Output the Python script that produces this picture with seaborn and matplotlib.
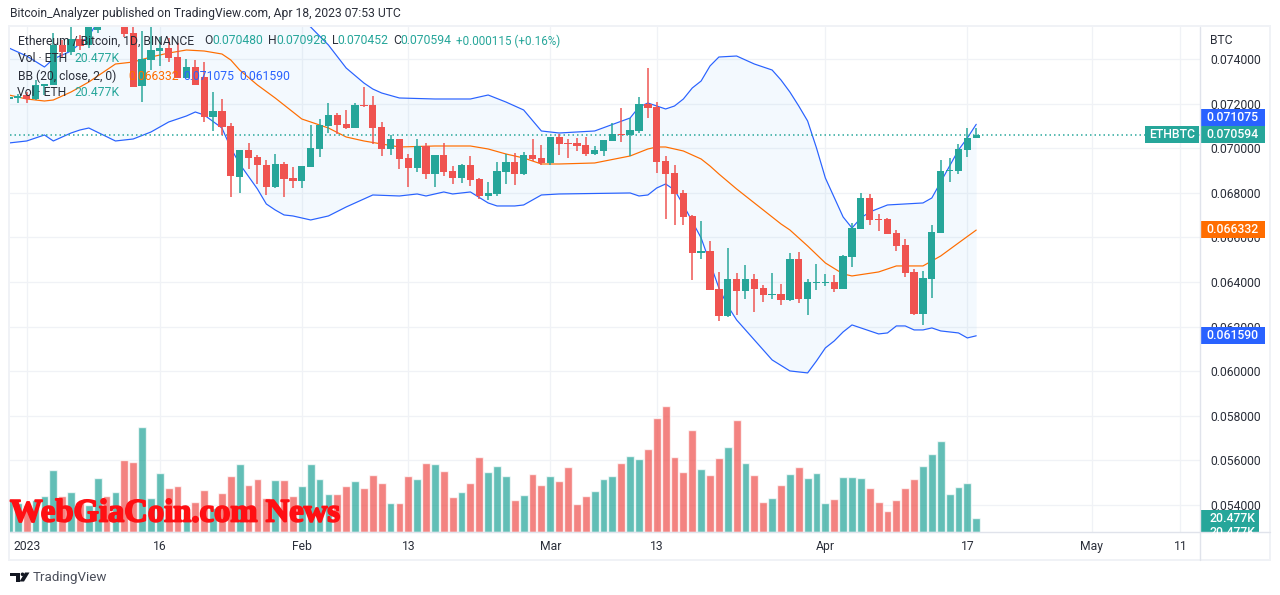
import numpy as np
import pandas as pd
import matplotlib
matplotlib.use('Agg')
import matplotlib.pyplot as plt
import matplotlib.patheffects as pe
from matplotlib.patches import Rectangle, Polygon, Circle
import seaborn as sns

# prices are in millionths of a BTC, days counted from 2023-01-01
SCALE = 1e-6
first_day = -2

opens = [72211, 72256, 72390, 72211, 72794, 72839, 74632, 74318, 74901, 74632, 75305, 75574, 75484, 75753, 75170,
         72794, 73960, 74363, 74498, 74094, 73152, 73646, 73197, 71404, 71673, 71000, 68713, 69924, 69610, 69251,
         68265, 69296, 68668, 68534, 69162, 69969, 71000, 71493, 71090, 70910, 71942, 71942, 70955, 69969, 70417,
         69565, 69117, 70103, 68848, 69700, 68982, 68668, 69251, 68623, 67861, 67951, 68937, 69386, 68848, 69700,
         69565, 69341, 70507, 70238, 70238, 70148, 69745, 69879, 70328, 70641, 70597, 70776, 71987, 71852, 69431,
         68893, 67996, 66965, 65305, 65395, 63691, 62480, 64140, 63602, 64140, 63736, 63422, 63467, 63198, 65036,
         63243, 63960, 63960, 64005, 63691, 65126, 66382, 67772, 66830, 66830, 66202, 65664, 64453, 62570, 64140,
         66202, 68982, 68982, 69924, 70480]
highs = [72390, 72435, 72525, 73063, 72900, 75170, 74856, 75439, 75081, 75843, 75753, 75800, 75900, 75900, 75439,
         75260, 75439, 74991, 74946, 74722, 74004, 73960, 73870, 72525, 72211, 71135, 69924, 70238, 69700, 69476,
         69745, 69386, 69162, 69206, 71045, 71314, 72031, 71583, 71718, 72031, 72749, 72345, 71180, 70597, 70417,
         69745, 70417, 70238, 69700, 70238, 69206, 69296, 69655, 68668, 68489, 69386, 69745, 69790, 69834, 70417,
         70148, 70507, 70641, 70417, 70462, 70507, 70103, 70372, 71135, 71807, 71359, 72300, 73601, 72076, 69655,
         69251, 68130, 67010, 66740, 65844, 64453, 65530, 64409, 64767, 64364, 63871, 64409, 63915, 65305, 65350,
         64140, 64812, 64364, 64319, 65216, 66651, 67996, 67951, 67054, 66875, 66337, 65933, 64588, 64498, 66561,
         69476, 69565, 70193, 70910, 70928]
lows = [72166, 72031, 72031, 72166, 72390, 72839, 74094, 74184, 74408, 74498, 75170, 75450, 75460, 74991, 72749,
        72076, 73511, 73691, 73870, 73152, 73197, 72839, 71180, 70776, 70597, 67816, 67996, 69072, 68399, 67906,
        68220, 67816, 68220, 68220, 69162, 69610, 70686, 70641, 70866, 70910, 71852, 70193, 69655, 69700, 69072,
        68265, 68937, 68623, 68265, 68758, 68399, 68444, 68310, 67727, 67682, 67861, 68399, 68354, 68803, 69431,
        69251, 69251, 69700, 69565, 69879, 69655, 69700, 69655, 70328, 70283, 69655, 70686, 71359, 68893, 66830,
        66561, 66561, 64095, 65036, 63646, 62256, 62435, 62525, 63243, 62660, 63108, 63243, 62974, 63153, 63063,
        62525, 63646, 63826, 63557, 63691, 64677, 66382, 66561, 66292, 66157, 65395, 64229, 62525, 62077, 63288,
        66202, 68489, 68848, 69610, 70452]
closes = [72300, 72345, 72211, 72839, 72883, 74632, 74318, 74901, 74587, 75574, 75574, 75484, 75753, 75125, 72749,
          74004, 74408, 74498, 74049, 73152, 73646, 72839, 71404, 71673, 70955, 68758, 69924, 69565, 69251, 68265,
          69296, 68623, 68534, 69206, 70014, 71045, 71493, 71045, 70910, 71942, 71897, 70910, 69969, 70417, 69520,
          69117, 70103, 68848, 69700, 68937, 68668, 69251, 68579, 67861, 67996, 68982, 69386, 68848, 69700, 69520,
          69341, 70507, 70193, 70193, 70103, 69745, 69924, 70372, 70641, 70597, 70821, 71987, 71807, 69386, 68848,
          67951, 66920, 65305, 65395, 63646, 62480, 64140, 63602, 64140, 63691, 63422, 63467, 63198, 65036, 63243,
          64005, 64005, 64005, 63691, 65171, 66426, 67772, 66785, 66785, 66157, 65619, 64409, 62570, 64184, 66247,
          68982, 69027, 69969, 70480, 70594]
# volume in thousands of ETH
volumes = [48.3, 41.9, 39.0, 46.8, 52.7, 90.7, 52.7, 58.5, 43.9, 39.0, 79.0, 52.7, 58.5, 105.3, 102.4,
           153.6, 49.7, 86.3, 64.4, 67.3, 29.3, 43.9, 61.4, 35.1, 57.0, 81.9, 99.5, 68.7, 77.5, 49.7,
           76.1, 76.1, 52.7, 67.3, 99.5, 77.5, 55.6, 55.6, 67.3, 74.6, 64.4, 83.4, 71.7, 42.4, 42.4,
           81.9, 77.5, 100.9, 99.5, 89.2, 51.2, 58.5, 71.7, 109.7, 87.8, 96.5, 81.9, 46.8, 54.1, 84.8,
           68.7, 81.9, 74.6, 95.1, 41.0, 52.7, 60.0, 77.5, 81.9, 100.9, 111.2, 106.8, 121.4, 166.7, 184.3,
           109.7, 87.8, 149.2, 92.1, 83.4, 108.2, 124.3, 163.8, 100.9, 83.4, 43.9, 49.7, 68.7, 84.8, 95.1,
           79.0, 86.3, 42.4, 48.3, 80.4, 80.4, 79.0, 64.4, 43.9, 30.7, 46.8, 64.4, 77.5, 96.5, 114.1,
           133.1, 55.6, 65.8, 71.7, 20.477]

upper_days = [-2, 0, 2, 3, 5, 7, 8, 10, 12, 14, 16, 18, 19, 20, 22, 23, 24, 26, 28, 29, 30, 31, 32, 34, 36, 38, 39,
              40, 42, 46, 50, 52, 54, 56, 58, 60, 64, 68, 69, 70, 72, 73, 74, 75, 76, 77, 78, 80, 82, 84, 85, 86,
              87, 88, 89, 90, 92, 93, 94, 95, 97, 99, 101, 102, 103, 105, 106, 107]
upper = [74498, 74139, 73646, 74004, 74363, 75036, 75664, 77233, 77323, 77457, 77367, 77367, 77188, 77233, 77547,
         77906, 77726, 77502, 77278, 76874, 76291, 75753, 75439, 74632, 73601, 72928, 72659, 72480, 72256, 72211,
         72211, 72390, 72076, 71718, 70776, 70686, 70776, 71359, 71852, 72031, 71763, 71897, 72211, 72704, 73018,
         73691, 74094, 74139, 73780, 73511, 73063, 72525, 71897, 71224, 70014, 68668, 66920, 66426, 66875, 67144,
         67458, 67503, 67548, 67772, 68489, 69924, 70462, 71075]
basis_days = [-2, 0, 2, 3, 5, 7, 8, 10, 12, 14, 16, 18, 20, 22, 23, 24, 26, 28, 29, 30, 31, 32, 34, 36, 38, 40, 42,
              46, 50, 52, 54, 56, 58, 60, 64, 68, 70, 71, 72, 74, 76, 77, 78, 80, 82, 84, 85, 86, 88, 90, 92, 93,
              96, 98, 101, 103, 105, 107]
basis = [72390, 72211, 72121, 72166, 72525, 72973, 73242, 73780, 73870, 74094, 74273, 74408, 74363, 74229, 73960,
         73511, 72839, 72256, 71942, 71628, 71314, 71180, 70910, 70507, 70328, 70193, 70058, 70103, 70103, 69969,
         69745, 69565, 69296, 69296, 69341, 69655, 69969, 70058, 70058, 69879, 69520, 69206, 68848, 68175, 67547,
         66920, 66606, 66337, 65619, 64857, 64364, 64274, 64453, 64723, 64723, 65171, 65754, 66332]
lower_days = [-2, 0, 2, 3, 5, 6, 7, 10, 12, 14, 16, 18, 19, 20, 22, 23, 24, 26, 27, 28, 29, 30, 32, 34, 36, 38, 39,
              42, 44, 45, 47, 48, 50, 52, 53, 55, 56, 58, 60, 68, 69, 70, 71, 72, 73, 74, 76, 77, 78, 79, 80, 82,
              84, 86, 88, 89, 90, 91, 92, 93, 94, 96, 97, 98, 99, 100, 101, 102, 103, 105, 106, 107]
lower = [70238, 70328, 70597, 70328, 70686, 70821, 70910, 70328, 70417, 70731, 71180, 71449, 71628, 71493, 70910,
         70014, 69296, 68175, 67503, 67234, 67010, 66965, 66785, 66965, 67368, 67727, 67906, 67861, 67951, 67861,
         68041, 67951, 68041, 67548, 67413, 67413, 67458, 67906, 67951, 67996, 67861, 67906, 68220, 68399, 68130,
         67458, 65978, 64857, 63736, 62929, 62301, 61404, 60508, 60014, 59925, 60463, 61046, 61360, 61763, 62077,
         61943, 61674, 61718, 62032, 62032, 61853, 61853, 61943, 61808, 61718, 61494, 61590]

price_ticks = [0.054, 0.056, 0.058, 0.060, 0.062, 0.064, 0.066, 0.068, 0.070, 0.072, 0.074]
time_ticks = [0, 15, 31, 43, 59, 71, 90, 106, 120, 130]
time_labels = ['2023', '16', 'Feb', '13', 'Mar', '13', 'Apr', '17', 'May', '11']

GREEN = '#26a69a'
RED = '#ef5350'
BLUE = '#2962ff'
ORANGE = '#ff6d00'
INK = '#2a2e39'
GRID = '#f0f2f6'
PX = 0.72  # one pixel in points at dpi 100

sns.set_theme(style='white')
plt.rcParams['font.family'] = ['Roboto', 'DejaVu Sans']

W, H = 1280, 595
fig = plt.figure(figsize=(W / 100, H / 100), dpi=100, facecolor='white')
box = [10 / W, (H - 532) / H, 1190 / W, 505 / H]
ax = fig.add_axes(box, zorder=1)
ax_vol = fig.add_axes(box, zorder=2, facecolor='none')
deco = fig.add_axes([0, 0, 1, 1], zorder=3, facecolor='none')
deco.set_xlim(0, W)
deco.set_ylim(H, 0)
deco.axis('off')

df = pd.DataFrame({'open': opens, 'high': highs, 'low': lows, 'close': closes, 'volume': volumes})
df[['open', 'high', 'low', 'close']] *= SCALE
df['day'] = np.arange(len(df)) + first_day
df['up'] = df['close'] >= df['open']
colors = np.where(df['up'], GREEN, RED)

# grid first so everything else sits on it
for t in price_ticks:
    ax.axhline(t, color=GRID, lw=1.3 * PX, zorder=0)
for t in time_ticks:
    ax.axvline(t, color=GRID, lw=1.3 * PX, zorder=0)

# bollinger band
grid_days = np.arange(first_day, 108)
up_line = np.array(upper) * SCALE
mid_line = np.array(basis) * SCALE
low_line = np.array(lower) * SCALE
ax.fill_between(grid_days, np.interp(grid_days, upper_days, up_line), np.interp(grid_days, lower_days, low_line),
                color='#2196f3', alpha=0.05, lw=0, zorder=1)
sns.lineplot(x=upper_days, y=up_line, color=BLUE, lw=1.2 * PX, ax=ax, estimator=None, zorder=2)
sns.lineplot(x=lower_days, y=low_line, color=BLUE, lw=1.2 * PX, ax=ax, estimator=None, zorder=2)
sns.lineplot(x=basis_days, y=mid_line, color=ORANGE, lw=1.2 * PX, ax=ax, estimator=None, zorder=2)

# candles
ax.vlines(df['day'], df['low'], df['high'], colors=colors, lw=1.5 * PX, zorder=3)
ax.bar(df['day'], (df['close'] - df['open']).abs(), bottom=df[['open', 'close']].min(axis=1),
       width=0.82, color=colors, lw=0, zorder=4)
ax.axhline(closes[-1] * SCALE, color=GREEN, lw=1.5 * PX, ls=(0, (1, 2)), zorder=2)

# volume
sns.barplot(data=df, x='day', y='volume', hue='up', palette={True: GREEN, False: RED}, native_scale=True,
            dodge=False, width=0.88, alpha=0.72, saturation=1, legend=False, ax=ax_vol)

x_left = (10 - 26.7) / 8.874
x_right = (1200 - 26.7) / 8.874
ax.set_xlim(x_left, x_right)
ax.set_ylim(0.05279, 0.07544)
ax_vol.set_xlim(x_left, x_right)
ax_vol.set_ylim(0, 738.6)
ax_vol.axis('off')

ax.yaxis.tick_right()
ax.set_yticks(price_ticks, [f'{t:.6f}' for t in price_ticks])
ax.set_xticks(time_ticks, time_labels)
ax.tick_params(axis='y', length=0, pad=7.5, labelsize=8.7, labelcolor=INK)
ax.tick_params(axis='x', length=0, pad=5.5, labelsize=8.7, labelcolor=INK)
ax.set_xlabel('')
ax.set_ylabel('')
sns.despine(ax=ax, left=True, right=True, top=True, bottom=True)

# frame around the chart
deco.add_patch(Rectangle((9, 26), 1261, 534, fill=False, ec=GRID, lw=2 * PX))
deco.plot([10, 1270], [532, 532], color='#e0e3eb', lw=1.4 * PX)
deco.plot([1200, 1200], [27, 560], color='#e0e3eb', lw=1.4 * PX)


def legend_text(x, y, s, color=INK):
    deco.text(x, y, s, color=color, fontsize=8.7, va='center', ha='left')


def price_tag(x0, x1, y0, y1, s, color):
    deco.add_patch(Rectangle((x0, y0), x1 - x0, y1 - y0, fc=color, ec='none'))
    deco.text((x0 + x1) / 2, (y0 + y1) / 2, s, color='white', fontsize=8.8, fontweight='medium',
              va='center', ha='center')


# header and legend
deco.text(10, 13, 'Bitcoin_Analyzer published on TradingView.com, Apr 18, 2023 07:53 UTC', color=INK,
          fontsize=8.75, va='center')
legend_text(18, 41, 'Ethereum / Bitcoin, 1D, BINANCE')
for lx, vx, name, val in [(204, 212, 'O', '0.070480'), (268, 276, 'H', '0.070928'),
                          (332, 337, 'L', '0.070452'), (393, 400, 'C', '0.070594')]:
    legend_text(lx, 41, name)
    legend_text(vx, 41, val, GREEN)
deco.text(456, 41, '+0.000115 (+0.16%)', color=GREEN, fontsize=8.4, va='center')
legend_text(18, 59, 'Vol · ETH')
legend_text(74, 59, '20.477K', GREEN)
legend_text(18, 76, 'BB (20, close, 2, 0)')
legend_text(128, 76, '0.066332', ORANGE)
legend_text(183, 76, '0.071075', BLUE)
legend_text(239, 76, '0.061590', BLUE)
legend_text(17, 93, 'Vol · ETH')
legend_text(74, 93, '20.477K', GREEN)
legend_text(1210, 40, 'BTC')

# labels on the price axis
price_tag(1200, 1265, 109, 126, '0.071075', BLUE)
price_tag(1200, 1265, 126, 143, '0.070594', GREEN)
price_tag(1145, 1199, 126, 143, 'ETHBTC', GREEN)
price_tag(1200, 1265, 221, 238, '0.066332', ORANGE)
price_tag(1200, 1265, 327, 344, '0.061590', BLUE)
deco.add_patch(Rectangle((1200, 510), 59, 22, fc=GREEN, ec='none'))
deco.text(1210, 518.5, '20.477K', color='white', fontsize=8.8, fontweight='medium', va='center')
clipped = deco.text(1210, 533, '20.477K', color='white', fontsize=8.8, fontweight='medium', va='center')
clipped.set_clip_path(Rectangle((1200, 510), 59, 22, transform=deco.transData))

# watermark
mark = deco.text(10, 513, 'WebGiaCoin.com News', color='#ff0f13', family='Liberation Serif', fontweight='bold',
                 fontsize=23.5, va='center', ha='left')
mark.set_path_effects([pe.withStroke(linewidth=1.3, foreground='#ff0f13')])

# footer logo
deco.add_patch(Polygon([(10, 572.5), (19.5, 572.5), (19.5, 581.5), (15.5, 581.5), (15.5, 576), (10, 576)],
                       fc='#131722', ec='none'))
deco.add_patch(Circle((22.5, 574.3), 1.8, fc='#131722', ec='none'))
deco.add_patch(Polygon([(25, 572.5), (29.5, 572.5), (24, 581.5), (19.5, 581.5)], fc='#131722', ec='none'))
deco.text(33, 577, 'TradingView', color='#4a4e5a', fontsize=9.6, va='center')

fig.savefig('out.png', dpi=100)
